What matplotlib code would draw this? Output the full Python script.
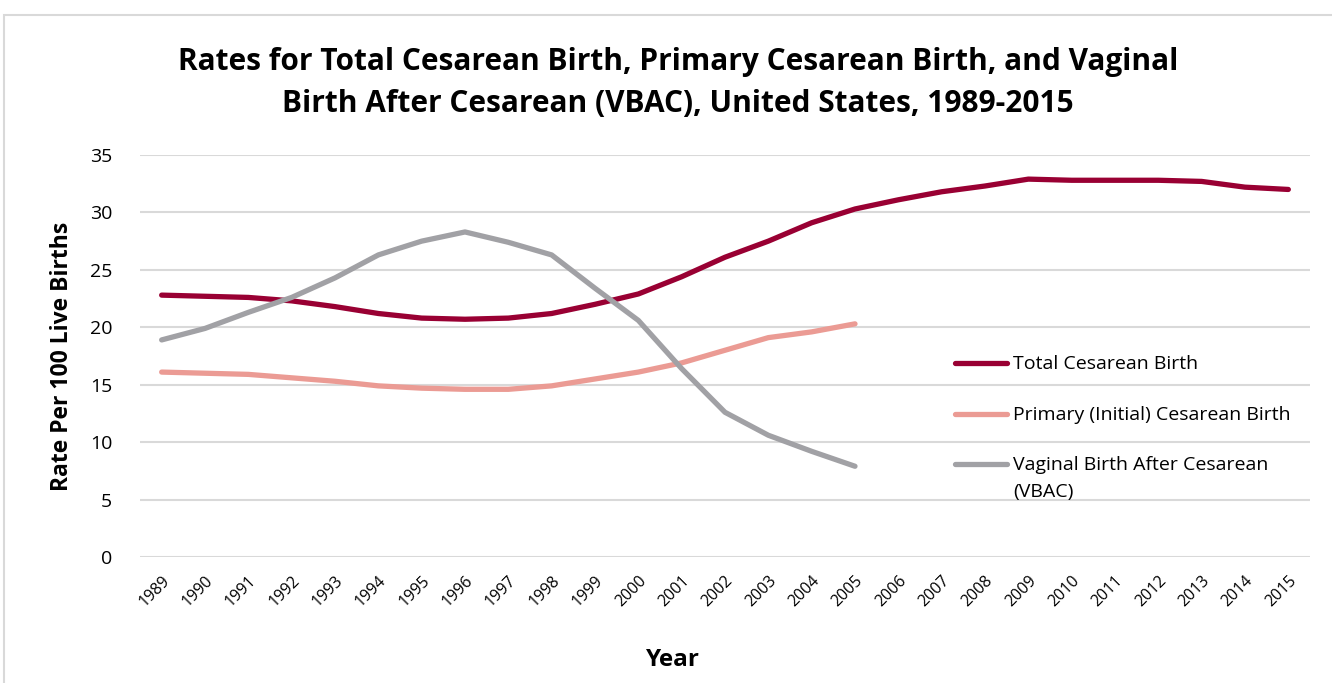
import numpy as np
import matplotlib
matplotlib.use("Agg")
import matplotlib.pyplot as plt
from matplotlib.patches import Rectangle
from matplotlib.lines import Line2D

plt.rcParams['font.family'] = ['Open Sans', 'DejaVu Sans']

years = [str(y) for y in range(1989, 2016)]

# Rates per 100 live births
total_cesarean = [22.8, 22.7, 22.6, 22.3, 21.8, 21.2, 20.8, 20.7, 20.8, 21.2,
                  22.0, 22.9, 24.4, 26.1, 27.5, 29.1, 30.3, 31.1, 31.8, 32.3,
                  32.9, 32.8, 32.8, 32.8, 32.7, 32.2, 32.0]
primary_cesarean = [16.1, 16.0, 15.9, 15.6, 15.3, 14.9, 14.7, 14.6, 14.6, 14.9,
                    15.5, 16.1, 16.9, 18.0, 19.1, 19.6, 20.3]
vbac = [18.9, 19.9, 21.3, 22.6, 24.3, 26.3, 27.5, 28.3, 27.4, 26.3,
        23.4, 20.6, 16.4, 12.6, 10.6, 9.2, 7.9]

labels = ["Total Cesarean Birth",
          "Primary (Initial) Cesarean Birth",
          "Vaginal Birth After Cesarean\n(VBAC)"]
colors = ["#990033", "#EB9B94", "#A1A1A5"]

W, H = 1332, 683
fig = plt.figure(figsize=(W / 100, H / 100), dpi=100)
ax = fig.add_axes([140 / W, 1 - 557 / H, (1310 - 140) / W, (557 - 155) / H])

# chart area border
fig.patches.append(Rectangle((4 / W, -0.05), 1.2, 1 - 15 / H + 0.05, transform=fig.transFigure,
                             fill=False, edgecolor="#D9D9D9", linewidth=1.5))

x = np.arange(len(years))
series = [total_cesarean, primary_cesarean, vbac]
for vals, lab, col in zip(series, labels, colors):
    ax.plot(x[:len(vals)], vals, color=col, linewidth=3.8, label=lab,
            solid_capstyle="round", solid_joinstyle="round")

ax.set_xlim(-0.5, len(years) - 0.5)
ax.set_ylim(0, 35)
ax.set_yticks(range(0, 36, 5))
ax.set_xticks(x)
ax.set_xticklabels(years, rotation=45, ha="right", rotation_mode="anchor", fontsize=11.5)
ax.tick_params(axis="y", labelsize=14, length=0, pad=20)
ax.tick_params(axis="x", length=0, pad=11)
ax.grid(axis="y", color="#D9D9D9", linewidth=1.5)
ax.set_axisbelow(True)
for s in ax.spines.values():
    s.set_visible(False)

ax.set_ylabel("Rate Per 100 Live Births", fontsize=16.5, fontweight="bold", labelpad=11)
fig.text(673 / W, 1 - 660 / H, "Year", fontsize=17.5, fontweight="bold",
         ha="center", va="center")
fig.text(678 / W, 1 - 83 / H,
         "Rates for Total Cesarean Birth, Primary Cesarean Birth, and Vaginal\n"
         "Birth After Cesarean (VBAC), United States, 1989-2015",
         fontsize=21.5, fontweight="bold", ha="center", va="center", linespacing=1.5)

# legend drawn by hand so the multi-line entry lines up with its first row
leg_y = [363, 414, 464]
for yy, lab, col in zip(leg_y, labels, colors):
    fig.add_artist(Line2D([955 / W, 1007 / W], [1 - yy / H, 1 - yy / H], transform=fig.transFigure,
                          color=col, linewidth=3.8, solid_capstyle="round"))
    fig.text(1013 / W, 1 - (yy - 8) / H, lab, fontsize=14, ha="left", va="top",
             linespacing=1.62)

fig.savefig("out.png", dpi=100, facecolor="white")
